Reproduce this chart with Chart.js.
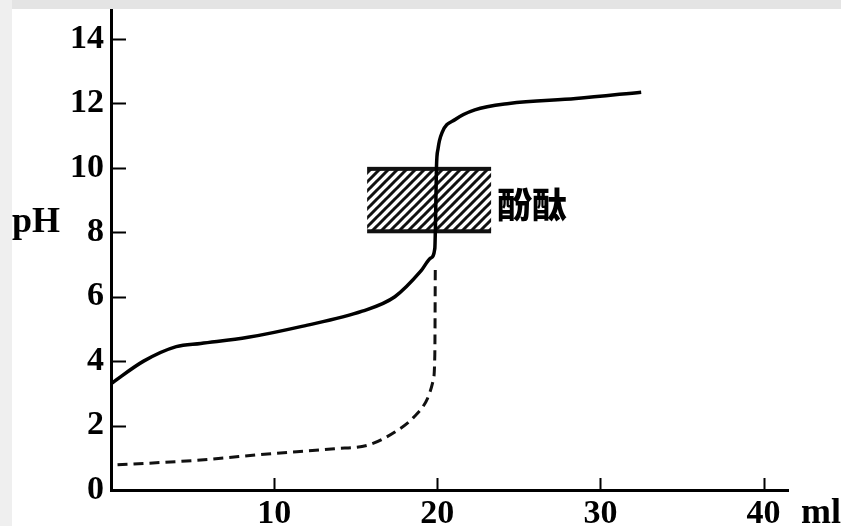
<!DOCTYPE html>
<html>
<head>
<meta charset="utf-8">
<script src="https://cdn.jsdelivr.net/npm/chart.js@4"></script>
<style>
  html, body { margin: 0; padding: 0; background: #fff; }
  #wrap { position: relative; width: 841px; height: 526px; overflow: hidden; }
  #topband { position: absolute; left: 0; top: 0; width: 841px; height: 9px; background: #e4e4e4; }
  #leftband { position: absolute; left: 0; top: 0; width: 12px; height: 526px; background: #efefef; }
  canvas { position: absolute; left: 0; top: 0; }
</style>
</head>
<body>
<div id="wrap">
  <div id="topband"></div>
  <div id="leftband"></div>
  <canvas id="myChart" width="841" height="526"></canvas>
</div>
<script>
// 滴定曲线数据
const weakX = [0, 2, 4, 5.5, 8.4, 11.7, 15.4, 17.4, 19.0, 19.6, 19.85, 19.9, 19.95, 20.05, 20.3, 21.1, 22.3, 24.4, 28.5, 32.5];
const weakY = [3.3, 4.0, 4.45, 4.55, 4.74, 5.08, 5.55, 6.0, 6.8, 7.2, 7.5, 8.5, 10.0, 10.6, 11.1, 11.5, 11.8, 12.0, 12.15, 12.35];
const strongX = [0.4, 5.5, 9.6, 13.7, 15.8, 17.4, 18.6, 19.4, 19.75, 19.85, 19.88];
const strongY = [0.78, 0.93, 1.12, 1.28, 1.4, 1.8, 2.28, 2.84, 3.4, 4.2, 7.0];

const xTicks = [10, 20, 30, 40];
const yTicks = [0, 2, 4, 6, 8, 10, 12, 14];

// 酚酞变色范围
const boxX = [15.7, 23.3];
const boxY = [8, 10];
const boxLabel = "酚酞";

const toPoints = (xs, ys) => xs.map((x, i) => ({x: x, y: ys[i]}));

function makeHatch(ctx) {
  const n = 9;
  const c = document.createElement("canvas");
  c.width = n; c.height = n;
  const g = c.getContext("2d");
  g.fillStyle = "#fff";
  g.fillRect(0, 0, n, n);
  g.strokeStyle = "#111";
  g.lineWidth = 3;
  g.beginPath();
  [-n, 0, n].forEach(d => {
    g.moveTo(d - 1, n + 1);
    g.lineTo(d + n + 1, -1);
  });
  g.stroke();
  return ctx.createPattern(c, "repeat");
}

const boxPlugin = {
  id: "box",
  beforeDatasetsDraw(chart) {
    const ctx = chart.ctx;
    const xs = chart.scales.x, ys = chart.scales.y;
    const l = xs.getPixelForValue(boxX[0]), r = xs.getPixelForValue(boxX[1]);
    const t = ys.getPixelForValue(boxY[1]), b = ys.getPixelForValue(boxY[0]);
    ctx.save();
    ctx.fillStyle = makeHatch(ctx);
    ctx.fillRect(l, t, r - l, b - t);
    ctx.fillStyle = "#111";
    ctx.fillRect(l, t - 1, r - l, 4);
    ctx.fillRect(l, b - 3, r - l, 4);
    ctx.font = "900 35px 'Noto Sans CJK SC'";
    ctx.textBaseline = "middle";
    ctx.textAlign = "left";
    ctx.fillStyle = "#000";
    ctx.fillText(boxLabel, r + 6, (t + b) / 2 + 5);
    ctx.restore();
  },
  afterDraw(chart) {
    const ctx = chart.ctx;
    const xs = chart.scales.x, ys = chart.scales.y;
    const area = chart.chartArea;
    ctx.save();
    ctx.strokeStyle = "#000";
    ctx.lineWidth = 2;
    ctx.beginPath();
    yTicks.forEach(v => {
      const py = Math.round(ys.getPixelForValue(v)) + 0.5;
      ctx.moveTo(area.left, py); ctx.lineTo(area.left + 15, py);
    });
    xTicks.forEach(v => {
      const px = Math.round(xs.getPixelForValue(v)) + 0.5;
      ctx.moveTo(px, area.bottom); ctx.lineTo(px, area.bottom - 12);
    });
    ctx.stroke();
    // 轴标题
    ctx.fillStyle = "#000";
    ctx.font = "bold 36px 'Liberation Serif'";
    ctx.textAlign = "left";
    ctx.textBaseline = "alphabetic";
    ctx.fillText("pH", 12, 232);
    ctx.fillText("ml", 801, 523);
    ctx.restore();
  }
};

window.onload = function() {
  const ctx = document.getElementById("myChart").getContext("2d");
  const tickFont = { family: "'Liberation Serif'", size: 34, weight: "bold" };
  myChart = new Chart(ctx, {
    type: "line",
    data: {
      datasets: [
        {
          data: toPoints(strongX, strongY),
          borderColor: "#111",
          borderWidth: 3,
          borderDash: [10, 6],
          pointRadius: 0,
          cubicInterpolationMode: "monotone",
          fill: false
        },
        {
          data: toPoints(weakX, weakY),
          borderColor: "#000",
          borderWidth: 3.5,
          pointRadius: 0,
          cubicInterpolationMode: "monotone",
          fill: false
        }
      ]
    },
    options: {
      responsive: false,
      animation: false,
      layout: { padding: { top: 10, right: 53, left: 0, bottom: 0 } },
      plugins: { legend: { display: false }, tooltip: { enabled: false } },
      scales: {
        x: {
          type: "linear",
          min: 0,
          max: 41.5,
          grid: { display: false, drawTicks: false },
          border: { display: true, color: "#000", width: 3 },
          afterFit: s => { s.height = 36; s.paddingLeft = 0; s.paddingRight = 0; },
          afterBuildTicks: s => { s.ticks = xTicks.map(v => ({ value: v })); },
          ticks: { color: "#000", font: tickFont, padding: 4, maxRotation: 0 }
        },
        y: {
          min: 0,
          max: 14.9,
          grid: { display: false, drawTicks: false },
          border: { display: true, color: "#000", width: 3 },
          afterFit: s => { s.width = 111; s.paddingTop = 0; s.paddingBottom = 0; },
          afterBuildTicks: s => { s.ticks = yTicks.map(v => ({ value: v })); },
          ticks: { color: "#000", font: tickFont, padding: 7 }
        }
      }
    },
    plugins: [boxPlugin]
  });
};
</script>
</body>
</html>
